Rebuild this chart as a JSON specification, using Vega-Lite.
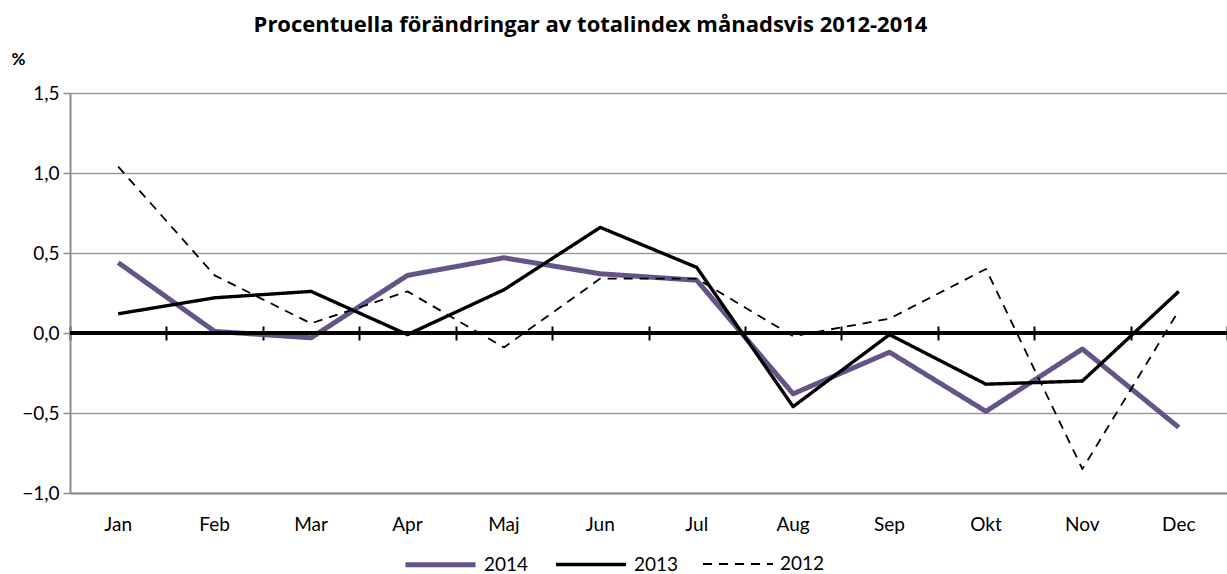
{
  "$schema": "https://vega.github.io/schema/vega-lite/v6.json",
  "width": 1157,
  "height": 400,
  "autosize": "none",
  "padding": {"left": 70, "top": 93, "right": 0, "bottom": 81},
  "background": "white",
  "config": {
    "font": "Lato",
    "view": {"stroke": null}
  },
  "title": {
    "text": "Procentuella förändringar av totalindex månadsvis 2012-2014",
    "anchor": "middle",
    "frame": "group",
    "dx": -58,
    "fontSize": 22,
    "fontWeight": "bold",
    "font": "Open Sans",
    "color": "black",
    "offset": 13
  },
  "data": {
    "values": [
      {"month": "Jan", "year": "2014", "value": 0.44},
      {"month": "Feb", "year": "2014", "value": 0.01},
      {"month": "Mar", "year": "2014", "value": -0.03},
      {"month": "Apr", "year": "2014", "value": 0.36},
      {"month": "Maj", "year": "2014", "value": 0.47},
      {"month": "Jun", "year": "2014", "value": 0.37},
      {"month": "Jul", "year": "2014", "value": 0.33},
      {"month": "Aug", "year": "2014", "value": -0.38},
      {"month": "Sep", "year": "2014", "value": -0.12},
      {"month": "Okt", "year": "2014", "value": -0.49},
      {"month": "Nov", "year": "2014", "value": -0.10},
      {"month": "Dec", "year": "2014", "value": -0.59},
      {"month": "Jan", "year": "2013", "value": 0.12},
      {"month": "Feb", "year": "2013", "value": 0.22},
      {"month": "Mar", "year": "2013", "value": 0.26},
      {"month": "Apr", "year": "2013", "value": -0.01},
      {"month": "Maj", "year": "2013", "value": 0.27},
      {"month": "Jun", "year": "2013", "value": 0.66},
      {"month": "Jul", "year": "2013", "value": 0.41},
      {"month": "Aug", "year": "2013", "value": -0.46},
      {"month": "Sep", "year": "2013", "value": -0.01},
      {"month": "Okt", "year": "2013", "value": -0.32},
      {"month": "Nov", "year": "2013", "value": -0.30},
      {"month": "Dec", "year": "2013", "value": 0.26},
      {"month": "Jan", "year": "2012", "value": 1.04},
      {"month": "Feb", "year": "2012", "value": 0.36},
      {"month": "Mar", "year": "2012", "value": 0.06},
      {"month": "Apr", "year": "2012", "value": 0.26},
      {"month": "Maj", "year": "2012", "value": -0.09},
      {"month": "Jun", "year": "2012", "value": 0.34},
      {"month": "Jul", "year": "2012", "value": 0.34},
      {"month": "Aug", "year": "2012", "value": -0.02},
      {"month": "Sep", "year": "2012", "value": 0.09},
      {"month": "Okt", "year": "2012", "value": 0.40},
      {"month": "Nov", "year": "2012", "value": -0.85},
      {"month": "Dec", "year": "2012", "value": 0.14}
    ]
  },
  "resolve": {"axis": {"x": "independent"}},
  "layer": [
    {
      "mark": {"type": "line", "strokeJoin": "round"},
      "encoding": {
        "x": {
          "field": "month", "type": "nominal",
          "sort": ["Jan","Feb","Mar","Apr","Maj","Jun","Jul","Aug","Sep","Okt","Nov","Dec"],
          "bandPosition": 0.5,
          "scale": {"type": "band", "paddingInner": 0, "paddingOuter": 0},
          "axis": {
            "orient": "bottom",
            "title": null, "labelAngle": 0, "labelFontSize": 19, "labelColor": "black",
            "labelPadding": 22, "ticks": false, "domainColor": "#8c8c8c", "domainWidth": 2, "grid": false
          }
        },
        "y": {
          "field": "value", "type": "quantitative",
          "scale": {"domain": [-1, 1.5], "nice": false, "zero": false},
          "axis": {
            "title": "%", "titleAngle": 0, "titleFontSize": 17, "titleFontWeight": "bold",
            "titleX": -52, "titleY": -25, "titleAlign": "center", "titleColor": "black",
            "values": [-1, -0.5, 0, 0.5, 1, 1.5],
            "labelExpr": "replace(format(datum.value, '.1f'), '.', ',')",
            "labelFontSize": 19, "labelColor": "black", "labelPadding": 4,
            "domainColor": "#8c8c8c", "domainWidth": 2,
            "tickColor": "#8c8c8c", "tickSize": 7, "tickWidth": 1.5,
            "grid": true, "gridColor": "#9a9a9a", "gridWidth": 1.5
          }
        },
        "color": {
          "field": "year", "type": "nominal",
          "scale": {"domain": ["2014", "2013", "2012"], "range": ["#655489", "black", "black"]},
          "legend": {
            "title": null, "orient": "none", "legendX": 333, "legendY": 434,
            "direction": "horizontal", "symbolType": "stroke", "symbolSize": 4900,
            "labelFontSize": 19, "labelColor": "black", "columnPadding": 20, "labelOffset": 6
          }
        },
        "strokeWidth": {
          "field": "year", "type": "nominal",
          "scale": {"domain": ["2014", "2013", "2012"], "range": [5, 1.8, 2.2]},
          "legend": {
            "title": null, "orient": "none", "legendX": 333, "legendY": 434,
            "direction": "horizontal", "symbolType": "stroke", "symbolSize": 4900,
            "labelFontSize": 19, "labelColor": "black", "columnPadding": 20, "labelOffset": 6
          }
        },
        "strokeDash": {
          "field": "year", "type": "nominal",
          "scale": {"domain": ["2014", "2013", "2012"], "range": [[1, 0], [1, 0], [9, 7]]},
          "legend": {
            "title": null, "orient": "none", "legendX": 333, "legendY": 434,
            "direction": "horizontal", "symbolType": "stroke", "symbolSize": 4900,
            "labelFontSize": 19, "labelColor": "black", "columnPadding": 20, "labelOffset": 6
          }
        }
      }
    },
    {
      "mark": {"type": "rule", "opacity": 0},
      "encoding": {
        "x": {
          "field": "month", "type": "nominal",
          "sort": ["Jan","Feb","Mar","Apr","Maj","Jun","Jul","Aug","Sep","Okt","Nov","Dec"],
          "scale": {"type": "band", "paddingInner": 0, "paddingOuter": 0},
          "axis": {
            "orient": "bottom",
            "title": null, "labels": false, "domain": false, "grid": false,
            "ticks": true, "tickBand": "extent", "tickColor": "black", "tickWidth": 2,
            "tickSize": 14, "offset": -167
          }
        },
        "y": {"datum": 0, "type": "quantitative"}
      }
    },
    {
      "mark": {"type": "rule", "color": "black", "strokeWidth": 2.5},
      "encoding": {"y": {"datum": 0, "type": "quantitative"}}
    }
  ]
}
